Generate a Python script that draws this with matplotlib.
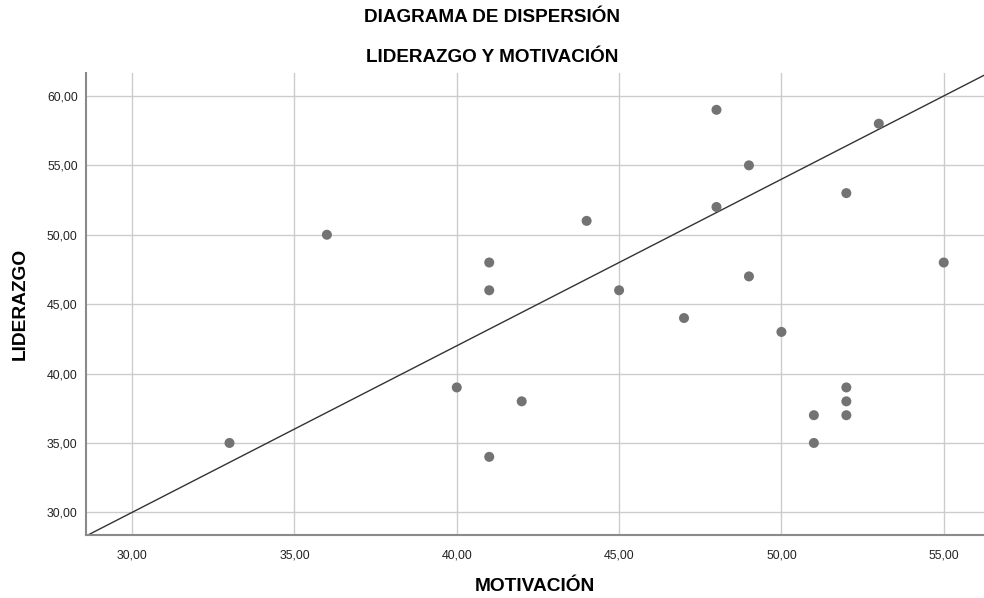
import numpy as np
import matplotlib.pyplot as plt
from matplotlib.ticker import FuncFormatter

# MOTIVACIÓN (x) vs LIDERAZGO (y)
motivacion = [33, 36, 40, 41, 41, 41, 42, 44, 45, 47, 48, 48,
              49, 49, 50, 51, 51, 52, 52, 52, 52, 53, 55]
liderazgo = [35, 50, 39, 48, 46, 34, 38, 51, 46, 44, 59, 52,
             55, 47, 43, 37, 35, 53, 39, 38, 37, 58, 48]

# reference line y = a * x + b
line_slope = 1.2
line_intercept = -6.0

x_ticks = [30, 35, 40, 45, 50, 55]
y_ticks = [30, 35, 40, 45, 50, 55, 60]
x_range = (28.58, 56.24)
y_range = (28.35, 61.63)

plt.rcParams['font.family'] = ['Liberation Sans', 'DejaVu Sans']

fig = plt.figure(figsize=(9.84, 5.98), dpi=100)
ax = fig.add_axes([0.0874, 0.1049, 1.0 - 0.0874, 0.8774 - 0.1049])

ax.set_xlim(*x_range)
ax.set_ylim(*y_range)
ax.set_xticks(x_ticks)
ax.set_yticks(y_ticks)
comma = FuncFormatter(lambda v, pos: f"{v:.2f}".replace('.', ','))
ax.xaxis.set_major_formatter(comma)
ax.yaxis.set_major_formatter(comma)

ax.grid(True, color='#cccccc', linewidth=1.0)
ax.set_axisbelow(True)

xs = np.array(x_range)
ax.plot(xs, line_slope * xs + line_intercept, color='#333333', linewidth=1.0, zorder=2)
ax.scatter(motivacion, liderazgo, s=52, color='#737373', edgecolors='none', zorder=3)

for side in ['top', 'right']:
    ax.spines[side].set_visible(False)
for side in ['left', 'bottom']:
    ax.spines[side].set_color('#8a8a8a')
    ax.spines[side].set_linewidth(1.5)

ax.tick_params(length=0, labelsize=8.8, colors='#222222', pad=6)
ax.tick_params(axis='x', pad=10)

ax.set_xlabel('MOTIVACIÓN', fontsize=13.8, fontweight='bold', labelpad=12)
ax.set_ylabel('LIDERAZGO', fontsize=13.8, fontweight='bold', labelpad=13)

fig.text(0.5, 1 - 18 / 598, 'DIAGRAMA DE DISPERSIÓN', ha='center', va='center',
         fontsize=13.6, fontweight='bold')
fig.text(0.5, 1 - 58 / 598, 'LIDERAZGO Y MOTIVACIÓN', ha='center', va='center',
         fontsize=13.6, fontweight='bold')

fig.savefig('out.png', dpi=100)
